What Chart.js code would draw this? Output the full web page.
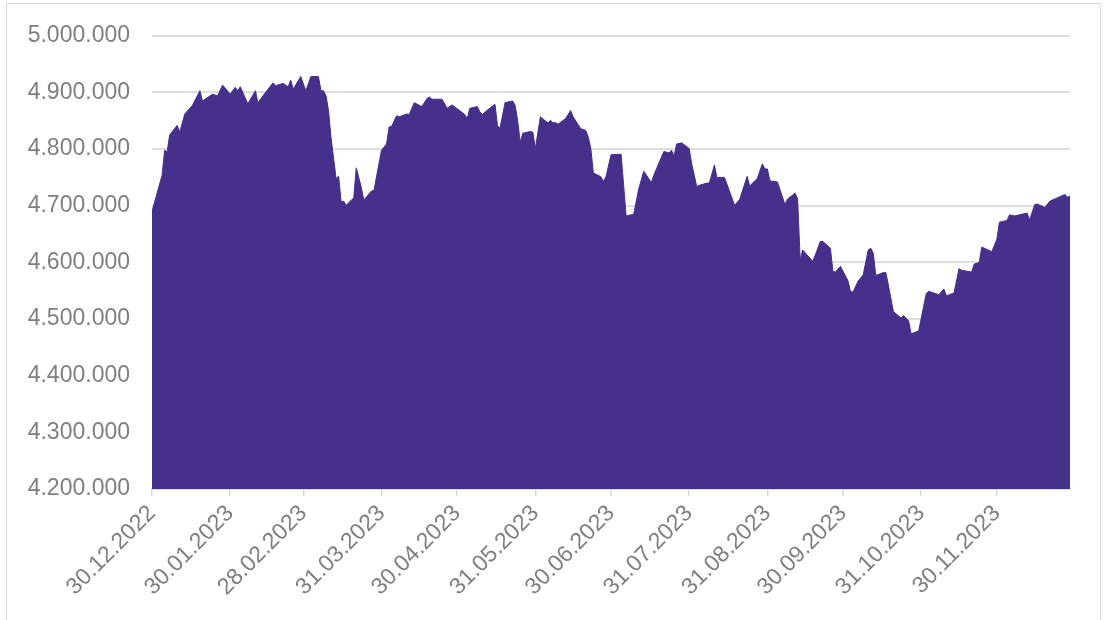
<!DOCTYPE html>
<html>
<head>
<meta charset="utf-8">
<script src="https://cdn.jsdelivr.net/npm/chart.js@4.4.1/dist/chart.umd.min.js"></script>
<style>
  html, body { margin: 0; padding: 0; background: #fff; overflow: hidden; }
  #frame { position: absolute; left: 6px; top: 3px; width: 1095px; height: 660px; border: 1px solid #d9d9d9; box-sizing: border-box; }
  #wrap { position: absolute; left: 0; top: 0; width: 1107px; height: 620px; }
</style>
</head>
<body>
<div id="frame"></div>
<div id="wrap"><canvas id="chart"></canvas></div>
<script>
// days since 30.12.2022 (calendar days)
const dayOffsets = [
    0, 4, 5, 6, 7, 10, 11, 13, 16, 19, 20, 24, 26, 28, 31, 33, 34, 35, 38, 41,
    42, 45, 48, 49, 52, 54, 55, 56, 59, 61, 63, 66, 67, 68, 69, 70, 71, 73, 74, 75,
    76, 77, 80, 81, 83, 84, 87, 88, 91, 93, 94, 95, 97, 98, 101, 102, 104, 107, 109, 110,
    111, 115, 117, 119, 122, 124, 125, 126, 129, 130, 131, 133, 136, 137, 138, 140, 143, 144, 145, 146,
    147, 150, 151, 152, 154, 157, 158, 159, 160, 161, 164, 166, 167, 170, 172, 173, 174, 175, 178, 179,
    180, 182, 186, 188, 191, 193, 195, 198, 199, 200, 203, 205, 206, 207, 208, 210, 213, 214, 216, 217,
    220, 221, 223, 224, 227, 231, 233, 236, 237, 240, 242, 243, 244, 245, 248, 251, 252, 255, 256, 257,
    258, 262, 263, 265, 266, 269, 270, 271, 273, 276, 277, 278, 280, 282, 284, 285, 286, 287, 290, 291,
    294, 297, 298, 300, 301, 304, 307, 308, 312, 314, 315, 318, 320, 321, 325, 326, 328, 329, 333, 335,
    336, 339, 340, 342, 344, 347, 348, 350, 351, 354, 356, 362, 363, 364
];

const values = [
    4690000, 4754000, 4798000, 4795000, 4825000, 4842000, 4830000, 4862000, 4877000, 4903000,
    4885000, 4897000, 4894000, 4913000, 4897000, 4909000, 4903000, 4910000, 4880000, 4903000,
    4882000, 4900000, 4917000, 4912000, 4916000, 4910000, 4922000, 4906000, 4928000, 4903000,
    4928000, 4928000, 4903000, 4903000, 4894000, 4868000, 4820000, 4748000, 4752000, 4707000,
    4708000, 4701000, 4714000, 4767000, 4732000, 4710000, 4726000, 4727000, 4798000, 4809000,
    4839000, 4840000, 4859000, 4857000, 4862000, 4861000, 4882000, 4875000, 4889000, 4892000,
    4888000, 4888000, 4872000, 4878000, 4868000, 4861000, 4854000, 4872000, 4875000, 4866000,
    4861000, 4869000, 4879000, 4841000, 4837000, 4882000, 4885000, 4877000, 4850000, 4812000,
    4828000, 4831000, 4830000, 4801000, 4857000, 4846000, 4851000, 4846000, 4847000, 4844000,
    4854000, 4868000, 4857000, 4836000, 4833000, 4821000, 4801000, 4758000, 4751000, 4743000,
    4751000, 4790000, 4791000, 4682000, 4685000, 4730000, 4761000, 4741000, 4754000, 4765000,
    4796000, 4793000, 4798000, 4788000, 4809000, 4811000, 4801000, 4774000, 4734000, 4736000,
    4740000, 4740000, 4772000, 4750000, 4750000, 4701000, 4711000, 4752000, 4735000, 4748000,
    4774000, 4765000, 4765000, 4744000, 4742000, 4702000, 4712000, 4722000, 4712000, 4605000,
    4622000, 4602000, 4613000, 4637000, 4637000, 4625000, 4584000, 4583000, 4593000, 4567000,
    4548000, 4548000, 4567000, 4578000, 4622000, 4625000, 4616000, 4577000, 4582000, 4582000,
    4513000, 4502000, 4506000, 4497000, 4474000, 4479000, 4545000, 4549000, 4543000, 4553000,
    4541000, 4546000, 4589000, 4586000, 4583000, 4597000, 4600000, 4627000, 4619000, 4641000,
    4671000, 4674000, 4684000, 4682000, 4684000, 4687000, 4675000, 4702000, 4703000, 4697000,
    4708000, 4720000, 4715000, 4717000
];

const xTickDays = [0, 31, 60, 91, 121, 152, 182, 213, 244, 274, 305, 335];
const xTickLabels = [
    '30.12.2022', '30.01.2023', '28.02.2023', '31.03.2023', '30.04.2023', '31.05.2023',
    '30.06.2023', '31.07.2023', '31.08.2023', '30.09.2023', '31.10.2023', '30.11.2023'
];
const xEndDay = 364; // 29.12.2023

const yTicks = [4200000, 4300000, 4400000, 4500000, 4600000, 4700000, 4800000, 4900000, 5000000];

function formatDE(n) {
    return String(n).replace(/\B(?=(\d{3})+(?!\d))/g, '.');
}

const labelColor = '#7f7f7f';
const gridColor = '#dedede';
const fontSpec = { family: "'Liberation Sans', Arial, sans-serif", size: 23 };

const canvas = document.getElementById('chart');
new Chart(canvas.getContext('2d'), {
    type: 'line',
    data: {
        datasets: [{
            data: dayOffsets.map((d, i) => ({ x: d, y: values[i] })),
            borderColor: '#472f8c',
            backgroundColor: '#472f8c',
            borderWidth: 1,
            pointRadius: 0,
            tension: 0,
            fill: 'start'
        }]
    },
    options: {
        responsive: true,
        maintainAspectRatio: false,
        animation: false,
        layout: { padding: { top: 32, right: 37, left: 0, bottom: 0 } },
        plugins: {
            legend: { display: false },
            tooltip: { enabled: false }
        },
        scales: {
            x: {
                type: 'linear',
                min: 0,
                max: xEndDay,
                afterBuildTicks: (scale) => {
                    scale.ticks = xTickDays.map(v => ({ value: v }));
                },
                afterFit: (scale) => { scale.height = 131; },
                grid: {
                    drawOnChartArea: false,
                    drawTicks: true,
                    tickLength: 7,
                    color: '#d9d9d9',
                    lineWidth: 1.5
                },
                border: { display: true, color: '#d9d6e6', width: 2 },
                ticks: {
                    autoSkip: false,
                    maxRotation: 45,
                    minRotation: 45,
                    padding: 4,
                    color: labelColor,
                    font: fontSpec,
                    callback: (value) => xTickLabels[xTickDays.indexOf(value)]
                }
            },
            y: {
                min: 4200000,
                max: 5000000,
                afterBuildTicks: (scale) => {
                    scale.ticks = yTicks.map(v => ({ value: v }));
                },
                afterFit: (scale) => { scale.width = 152; },
                grid: {
                    color: gridColor,
                    lineWidth: 2,
                    drawTicks: false
                },
                border: { display: false },
                ticks: {
                    padding: 22,
                    color: labelColor,
                    font: fontSpec,
                    callback: (value) => formatDE(value)
                }
            }
        }
    }
});
</script>
</body>
</html>
